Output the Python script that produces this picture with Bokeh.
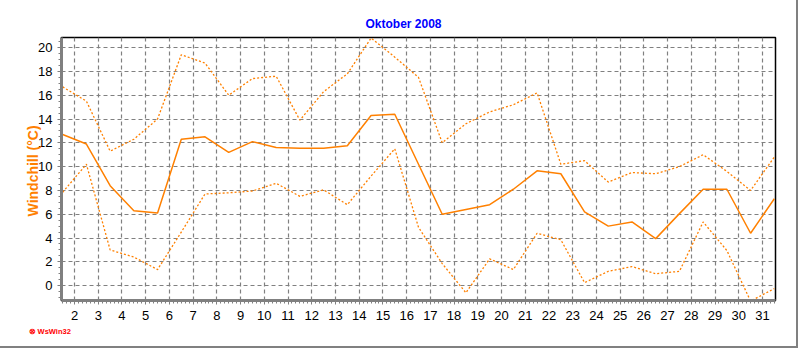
from bokeh.plotting import figure
from bokeh.models import Range1d, FixedTicker, Title
from bokeh.embed import file_html
from bokeh.resources import INLINE

# Day positions (each day's value is drawn at the middle of the day)
days = [d + 0.5 for d in range(1, 32)]

wc_max = [16.7, 15.5, 11.3, 12.3, 14.0, 19.4, 18.7, 16.0, 17.4, 17.6,
          13.9, 16.3, 17.8, 20.8, 19.2, 17.5, 12.0, 13.6, 14.6, 15.2,
          16.2, 10.2, 10.5, 8.7, 9.5, 9.4, 10.0, 11.0, 9.6, 8.0, 10.8]
wc_mean = [12.7, 11.9, 8.4, 6.3, 6.1, 12.3, 12.5, 11.2, 12.1, 11.6,
           11.55, 11.55, 11.75, 14.3, 14.4, 10.2, 6.0, 6.4, 6.8, 8.1,
           9.65, 9.4, 6.2, 5.0, 5.35, 3.95, 6.05, 8.1, 8.1, 4.4, 7.3]
wc_min = [7.85, 10.2, 3.0, 2.4, 1.35, 4.5, 7.7, 7.8, 7.95, 8.6,
          7.5, 8.05, 6.8, 9.2, 11.5, 4.9, 1.85, -0.6, 2.25, 1.35,
          4.4, 3.85, 0.25, 1.2, 1.6, 1.0, 1.2, 5.35, 2.95, -1.3, -0.25]

x_ticks = list(range(2, 32))
y_ticks = list(range(0, 21, 2))

title_text = "Oktober 2008"
y_label = "Windchill  (°C)"
credit = "⊗ WsWin32"

ORANGE = "#ff8000"
GRID = "#808080"

p = figure(width=798, height=348, output_backend="svg", toolbar_location=None,
           x_range=Range1d(1.45, 31.55), y_range=Range1d(-1.25, 20.85),
           min_border_left=61, min_border_right=23, min_border_top=37,
           min_border_bottom=48)
p.styles = {"border-right": "2px solid #808080", "border-bottom": "2px solid #808080"}

p.title = Title(text=title_text, text_color="#0000ff", text_font="Liberation Sans",
                text_font_size="12px", text_font_style="bold", align="left",
                offset=304, standoff=14)

p.outline_line_color = "black"
p.outline_line_width = 1.5
p.background_fill_color = "white"
p.border_fill_color = "white"

for ax in (p.xaxis[0], p.yaxis[0]):
    ax.axis_line_color = "#808080"
    ax.axis_line_width = 3
    ax.major_tick_line_color = "#808080"
    ax.minor_tick_line_color = "#808080"
    ax.major_tick_in = 0
    ax.minor_tick_in = 0
    ax.major_tick_out = 4
    ax.minor_tick_out = 3
    ax.major_label_text_font = "Liberation Sans"
    ax.major_label_text_font_size = "13px"
    ax.major_label_text_color = "black"

p.xaxis.ticker = FixedTicker(ticks=x_ticks,
                             minor_ticks=[1.5 + i / 6 for i in range(0, 181)])
p.yaxis.ticker = FixedTicker(ticks=y_ticks,
                             minor_ticks=[-1 + i * 0.5 for i in range(0, 44)])
p.xaxis.major_label_standoff = 6
p.yaxis.major_label_standoff = 5

p.yaxis.axis_label = y_label
p.yaxis.axis_label_text_color = ORANGE
p.yaxis.axis_label_text_font = "Liberation Sans"
p.yaxis.axis_label_text_font_size = "14px"
p.yaxis.axis_label_text_font_style = "bold"
p.yaxis.axis_label_standoff = -6

p.xgrid.ticker = FixedTicker(ticks=x_ticks)
p.ygrid.ticker = FixedTicker(ticks=y_ticks)
for g in (p.xgrid[0], p.ygrid[0]):
    g.grid_line_color = GRID
    g.grid_line_dash = "4 3"
    g.grid_line_width = 1.2

p.line(days, wc_max, line_color=ORANGE, line_width=1.3, line_dash="2 2")
p.line(days, wc_mean, line_color=ORANGE, line_width=1.5)
p.line(days, wc_min, line_color=ORANGE, line_width=1.3, line_dash="2 2")

p.add_layout(Title(text=credit, text_color="#ff0000", text_font="Liberation Sans",
                   text_font_size="7.5px", text_font_style="bold", align="left",
                   offset=-33, standoff=5), "below")

open("out.html", "w").write(file_html(p, INLINE))
